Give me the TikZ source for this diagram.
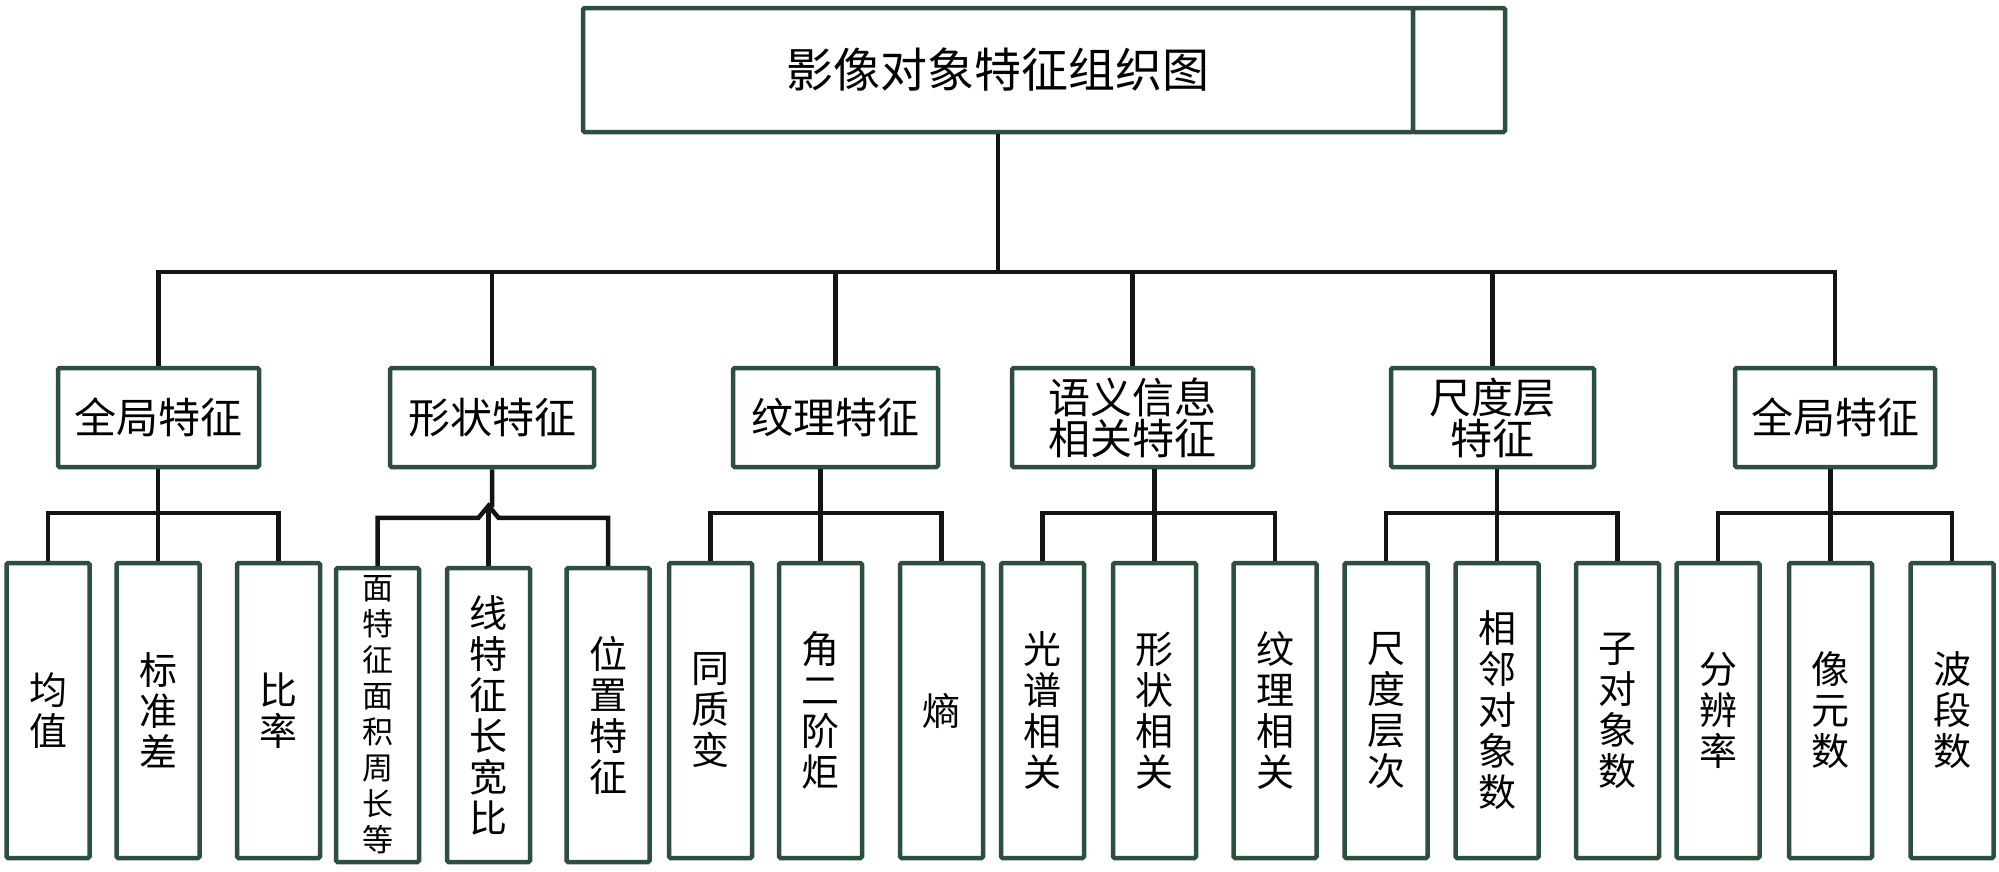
\documentclass[tikz,border=0pt]{standalone}
\usepackage{fontspec}
\newfontfamily\cjk{Noto Sans CJK SC}
\usetikzlibrary{calc}
\definecolor{boxc}{RGB}{45,80,62}
\definecolor{linec}{RGB}{20,20,20}
\begin{document}
\begin{tikzpicture}[x=1pt,y=-1pt,
  box/.style={draw=boxc, line width=4.5pt, rounded corners=1.5pt, inner sep=0pt, fill=white, align=center, text=black, font=\cjk\fontsize{42}{41}\selectfont},
  titlebox/.style={box, minimum width=830pt, minimum height=124pt, font=\cjk\fontsize{47}{50}\selectfont},
  midbox/.style={box, minimum height=99pt},
  leaf/.style={box, minimum width=83pt, minimum height=295pt, font=\cjk\fontsize{38}{41}\selectfont},
  leafb/.style={leaf, minimum height=294pt},
  conn/.style={draw=linec, line width=4.5pt}
]
\fill[white] (0,0) rectangle (1999,871);
\useasboundingbox (0,0) rectangle (1999,871);

% top
\node[titlebox] (title) at (998,70) {影像对象特征组织图};
\node[box, minimum width=92pt, minimum height=124pt] (titleext) at (1459,70) {};

% level 2
\node[midbox, minimum width=201pt] (g1) at (158.5,417.5) {全局特征};
\node[midbox, minimum width=204pt] (g2) at (492,417.5) {形状特征};
\node[midbox, minimum width=205pt] (g3) at (835.5,417.5) {纹理特征};
\node[midbox, minimum width=241pt] (g4) at (1132.5,417.5) {语义信息\\相关特征};
\node[midbox, minimum width=203pt] (g5) at (1492.5,417.5) {尺度层\\特征};
\node[midbox, minimum width=200pt] (g6) at (1835,417.5) {全局特征};

% leaves
\node[leaf] (l11) at (48,710.5) {均\\值};
\node[leaf] (l12) at (158,710.5) {标\\准\\差};
\node[leaf] (l13) at (278.5,710.5) {比\\率};
\node[leafb, font=\cjk\fontsize{31}{36}\selectfont] (l21) at (377.5,715) {面\\特\\征\\面\\积\\周\\长\\等};
\node[leafb] (l22) at (488.5,715) {线\\特\\征\\长\\宽\\比};
\node[leafb] (l23) at (608,715) {位\\置\\特\\征};
\node[leaf] (l31) at (710.5,710.5) {同\\质\\变};
\node[leaf] (l32) at (820.5,710.5) {角\\二\\阶\\炬};
\node[leaf] (l33) at (941.5,710.5) {熵};
\node[leaf] (l41) at (1042.5,710.5) {光\\谱\\相\\关};
\node[leaf] (l42) at (1154.5,710.5) {形\\状\\相\\关};
\node[leaf] (l43) at (1275,710.5) {纹\\理\\相\\关};
\node[leaf] (l51) at (1386,710.5) {尺\\度\\层\\次};
\node[leaf] (l52) at (1497,710.5) {相\\邻\\对\\象\\数};
\node[leaf] (l53) at (1617.5,710.5) {子\\对\\象\\数};
\node[leaf] (l61) at (1718,710.5) {分\\辨\\率};
\node[leaf] (l62) at (1830.5,710.5) {像\\元\\数};
\node[leaf] (l63) at (1952,710.5) {波\\段\\数};

% top connectors
\coordinate (bus) at (998,272);
\draw[conn] (title.south) -- (title.south |- bus);
\draw[conn] (g1.north) |- (bus) -| (g6.north);
\foreach \g in {g2,g3,g4,g5} \draw[conn] (\g.north) -- (\g.north |- bus);

% group connectors
\foreach \g/\a/\b/\c in {g1/l11/l12/l13, g3/l31/l32/l33, g4/l41/l42/l43, g5/l51/l52/l53, g6/l61/l62/l63}{
  \draw[conn] (\b.north |- \g.south) -- (\b.north);
  \draw[conn] (\a.north) -- ++(0,-48) -| (\c.north);
}

% shape group with line jump
\coordinate (apex) at ($(l22.north)+(0,-60)$);
\draw[conn] (l21.north) -- ++(0,-48) -- ++(101,0) -- (apex) -- ++(10,12) -| (l23.north);
\draw[conn] (l22.north) -- (apex);
\draw[conn] (g2.south) -- ++(0,36) -- (apex);
\end{tikzpicture}
\end{document}
